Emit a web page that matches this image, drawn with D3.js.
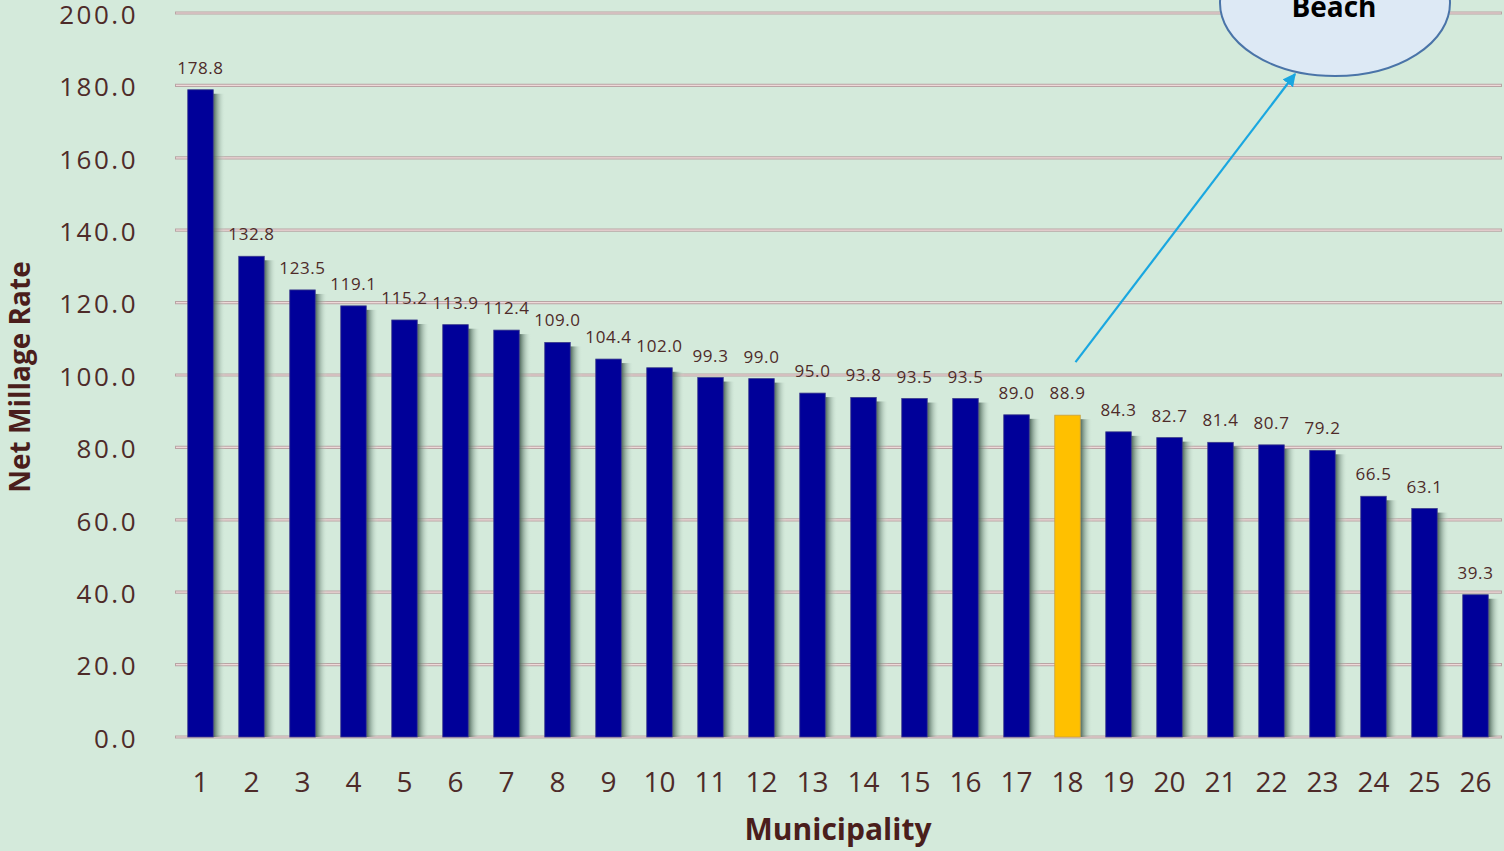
<!DOCTYPE html>
<html><head><meta charset="utf-8">
<script src="https://cdn.jsdelivr.net/npm/d3@7"></script>
<style>
html,body{margin:0;padding:0;background:#d4eadb;overflow:hidden;}
svg{display:block;}
</style></head>
<body>
<script>
const categories = ["1","2","3","4","5","6","7","8","9","10","11","12","13","14","15","16","17","18","19","20","21","22","23","24","25","26"];
const values = [178.8,132.8,123.5,119.1,115.2,113.9,112.4,109.0,104.4,102.0,99.3,99.0,95.0,93.8,93.5,93.5,89.0,88.9,84.3,82.7,81.4,80.7,79.2,66.5,63.1,39.3];
const valueLabels = ["178.8","132.8","123.5","119.1","115.2","113.9","112.4","109.0","104.4","102.0","99.3","99.0","95.0","93.8","93.5","93.5","89.0","88.9","84.3","82.7","81.4","80.7","79.2","66.5","63.1","39.3"];
const highlight = "18";
const yTicks = [0,20,40,60,80,100,120,140,160,180,200];
const calloutText = "Beach";

const W = 1504, H = 851;
const font = "'Open Sans', 'Noto Sans', sans-serif";
const textCol = "#4e2b29";

const svg = d3.select("body").append("svg").attr("width", W).attr("height", H);
svg.append("rect").attr("width", W).attr("height", H).attr("fill", "#d4eadb");

const defs = svg.append("defs");
const g1 = defs.append("linearGradient").attr("id","shade").attr("x1","0").attr("x2","1").attr("y1","0").attr("y2","0");
g1.append("stop").attr("offset","0%").attr("stop-color","#425c4f").attr("stop-opacity",0.95);
g1.append("stop").attr("offset","100%").attr("stop-color","#d4eadb").attr("stop-opacity",0);
const mk = defs.append("marker").attr("id","arr").attr("viewBox","0 0 10 10").attr("refX","9").attr("refY","5")
  .attr("markerWidth",6).attr("markerHeight",6).attr("orient","auto-start-reverse");
mk.append("path").attr("d","M0,0 L10,5 L0,10 z").attr("fill","#1aa7e0");

const x = d3.scaleBand().domain(categories).range([175, 1501]).paddingInner(0.5).paddingOuter(0.25);
const y = d3.scaleLinear().domain([0, 200]).range([737, 13]);

// gridlines
const grid = svg.append("g");
yTicks.forEach(t => {
  grid.append("line").attr("x1",175).attr("x2",1502).attr("y1",y(t)).attr("y2",y(t))
    .attr("stroke","#b9a4a4").attr("stroke-width",3.2);
  grid.append("line").attr("x1",176).attr("x2",1501).attr("y1",y(t)).attr("y2",y(t))
    .attr("stroke","#efd9d9").attr("stroke-width",1.2);
});

// y axis labels
const yAxis = d3.axisLeft(y).tickValues(yTicks).tickFormat(d3.format(".1f")).tickSize(0).tickPadding(0);
const ya = svg.append("g").attr("transform","translate(138,2)").call(yAxis);
ya.select(".domain").remove();
ya.selectAll("text").attr("font-family",font).attr("font-size",26).attr("fill",textCol).attr("letter-spacing","2.5px");

// x axis labels
const xAxis = d3.axisBottom(x).tickSize(0).tickPadding(0);
const xa = svg.append("g").attr("transform","translate(0,772)").call(xAxis);
xa.select(".domain").remove();
xa.selectAll("text").attr("font-family",font).attr("font-size",28).attr("fill",textCol);

// bars: shadows then bars
const idx = categories.map((c,i)=>i);
svg.append("g").selectAll("rect").data(idx).join("rect")
  .attr("x", i => x(categories[i]) + x.bandwidth())
  .attr("y", i => y(values[i]) + 4)
  .attr("width", 12)
  .attr("height", i => y(0) - y(values[i]) - 4)
  .attr("fill","url(#shade)");
svg.append("g").selectAll("rect").data(idx).join("rect")
  .attr("x", i => x(categories[i]))
  .attr("y", i => y(values[i]))
  .attr("width", x.bandwidth())
  .attr("height", i => y(0) - y(values[i]))
  .attr("fill", i => categories[i] === highlight ? "#ffc000" : "#000099")
  .attr("stroke", i => categories[i] === highlight ? "#c8a040" : "#3a3a8a")
  .attr("stroke-width", 0.8);

// value labels
svg.append("g").selectAll("text").data(idx).join("text")
  .attr("x", i => x(categories[i]) + x.bandwidth()/2)
  .attr("y", i => y(values[i]) - 16)
  .attr("text-anchor","middle")
  .attr("font-family",font).attr("font-size",17).attr("letter-spacing","0.6px")
  .attr("fill",textCol)
  .text(i => valueLabels[i]);

// axis titles
svg.append("text").attr("transform","translate(30,377) rotate(-90)").attr("text-anchor","middle")
  .attr("font-family",font).attr("font-weight","bold").attr("font-size",28).attr("fill","#4a1e1c")
  .text("Net Millage Rate");
svg.append("text").attr("x",838).attr("y",840).attr("text-anchor","middle")
  .attr("font-family",font).attr("font-weight","bold").attr("font-size",30).attr("fill","#4a1e1c")
  .text("Municipality");

// callout arrow + ellipse
const hx = x(highlight) + x.bandwidth()/2;
svg.append("line").attr("x1", hx + 8).attr("y1", y(values[categories.indexOf(highlight)]) - 53)
  .attr("x2",1295).attr("y2",74).attr("stroke","#1aa7e0").attr("stroke-width",2.2).attr("marker-end","url(#arr)");
svg.append("ellipse").attr("cx",1335).attr("cy",3).attr("rx",115).attr("ry",73)
  .attr("fill","#dde9f5").attr("stroke","#4a74a8").attr("stroke-width",2);
svg.append("text").attr("x",1334).attr("y",17).attr("text-anchor","middle")
  .attr("font-family",font).attr("font-weight","bold").attr("font-size",28).attr("fill","#000")
  .text(calloutText);
</script>
</body></html>
